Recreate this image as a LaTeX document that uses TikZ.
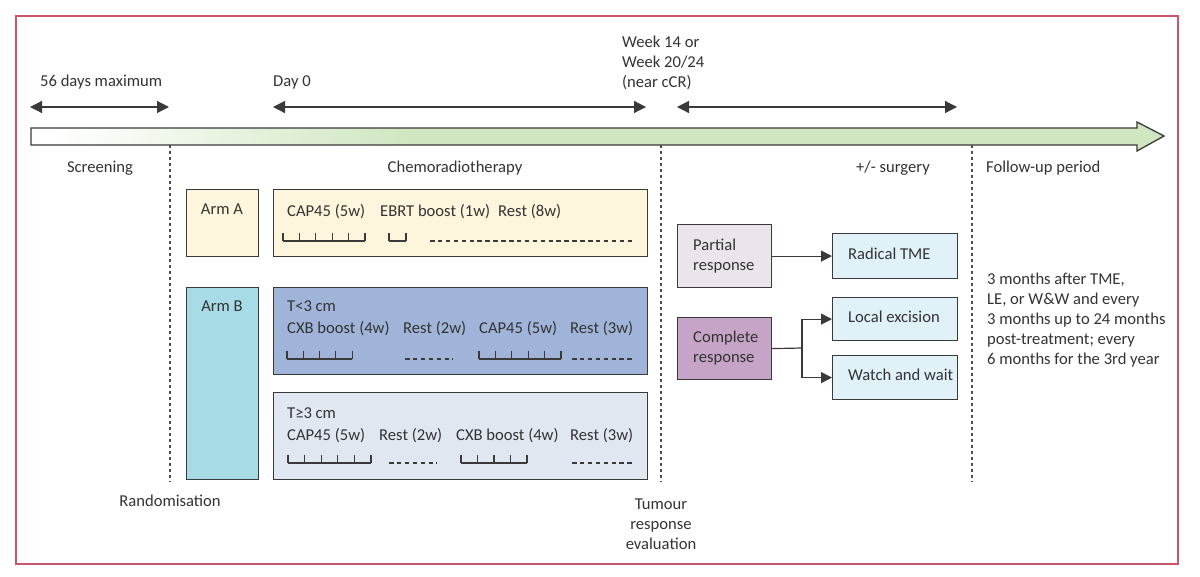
\documentclass[tikz,border=0pt]{standalone}
\usepackage{fontspec}
\setmainfont{Carlito}
\usetikzlibrary{arrows.meta}
\definecolor{txt}{HTML}{333333}
\definecolor{ln}{HTML}{3A3A3A}
\definecolor{frameRed}{HTML}{C9566A}
\definecolor{barG}{HTML}{CFE6C0}
\definecolor{armAfill}{HTML}{FDF5DC}
\definecolor{armBfill}{HTML}{A7DBE6}
\definecolor{smallT}{HTML}{9FB4D8}
\definecolor{bigT}{HTML}{E0E7F1}
\definecolor{partfill}{HTML}{ECE4ED}
\definecolor{compfill}{HTML}{C6A4C8}
\definecolor{surgfill}{HTML}{E0F1F7}
\pgfdeclarehorizontalshading{barshade}{100bp}{color(0bp)=(white); color(26bp)=(white); color(42bp)=(barG); color(100bp)=(barG)}
\newcommand\weekticks[4]{%
  \draw[tickline] (#1,#2) -- ({#1+#3*#4},#2);
  \foreach \k in {0,...,#3} \draw[tickline] ({#1+\k*#4},#2) -- ({#1+\k*#4},#2-8);}
\begin{document}
\begin{tikzpicture}[x=1pt,y=-1pt,
  every node/.style={font=\fontsize{16.6}{20}\selectfont, text=txt, inner sep=0pt},
  lbl/.style={text height=11pt, text depth=3.5pt},
  box/.style={draw=ln, line width=1.2pt, anchor=north west},
  conn/.style={draw=ln, line width=1.2pt, -{Triangle[length=11pt,width=11pt]}},
  span/.style={draw=ln, line width=1.2pt, {Triangle[length=12pt,width=12pt]}-{Triangle[length=12pt,width=12pt]}},
  divider/.style={draw=ln!90, line width=1.4pt, dash pattern=on 3pt off 3pt},
  tickline/.style={draw=ln, line width=1.1pt},
  restline/.style={draw=ln, line width=1.1pt, dash pattern=on 4.5pt off 3.4pt}]
\useasboundingbox (0,0) rectangle (1200,576);
\fill[white] (0,0) rectangle (1200,576);
% frame
\draw[frameRed, line width=1.3pt] (16,16) rectangle (1178,564);
% timeline bar
\shadedraw[shading=barshade, draw=ln, line width=1.3pt, line join=miter]
  (31,128) -- (1137,128) -- (1137,122) -- (1164,136) -- (1137,151) -- (1137,145) -- (31,145) -- cycle;
% spans
\coordinate (s1a) at (30,107); \coordinate (s1b) at (169,107);
\coordinate (s2a) at (273,107); \coordinate (s2b) at (646,107);
\coordinate (s3a) at (677,107); \coordinate (s3b) at (957,107);
\draw[span] (s1a) -- (s1b);
\draw[span] (s2a) -- (s2b);
\draw[span] (s3a) -- (s3b);
\node[lbl, anchor=west] (t56) at (40,83) {56 days maximum};
\node[lbl, anchor=west] (tday) at (273,83) {Day 0};
\node[anchor=west, align=left] (tweek) at (622,63) {Week 14 or\\Week 20/24\\(near cCR)};
% dividers
\coordinate (d1a) at (170,145); \coordinate (d1b) at (170,482);
\coordinate (d2a) at (661,145); \coordinate (d2b) at (661,482);
\coordinate (d3a) at (972,145); \coordinate (d3b) at (972,482);
\draw[divider] (d1a) -- (d1b);
\draw[divider] (d2a) -- (d2b);
\draw[divider] (d3a) -- (d3b);
% phase labels
\node[lbl] (screen) at (100,169) {Screening};
\node[lbl] (chemo) at (455,169) {Chemoradiotherapy};
\node[lbl] (surg) at (893,169) {+/- surgery};
\node[lbl, anchor=west] (follow) at (986,169) {Follow-up period};
\node[lbl] (rand) at (170,503) {Randomisation};
\node[align=center] (tumour) at (661,524) {Tumour\\response\\evaluation};
% arms
\node[box, fill=armAfill, minimum width=72pt, minimum height=67pt] (armA) at (186,189) {};
\node[lbl] at (222,211) {Arm A};
\node[box, fill=armBfill, minimum width=72pt, minimum height=192pt] (armB) at (186,287) {};
\node[lbl] at (222,308) {Arm B};
\node[box, fill=armAfill, minimum width=374pt, minimum height=67pt] (boxA) at (273,189) {};
\node[box, fill=smallT, minimum width=374pt, minimum height=87pt] (boxB1) at (273,287) {};
\node[box, fill=bigT, minimum width=374pt, minimum height=87pt] (boxB2) at (273,392) {};
% Arm A content
\node[lbl, anchor=west] at (287,213) {CAP45 (5w)};
\node[lbl, anchor=west] at (380,213) {EBRT boost (1w)};
\node[lbl, anchor=west] at (498,213) {Rest (8w)};
\weekticks{283}{241}{5}{16.4}
\weekticks{389}{241}{1}{17}
\draw[restline] (430,241) -- (635,241);
% T<3
\node[lbl, anchor=west] at (287,308) {T<3 cm};
\node[lbl, anchor=west] at (287,330) {CXB boost (4w)};
\node[lbl, anchor=west] at (403,330) {Rest (2w)};
\node[lbl, anchor=west] at (479,330) {CAP45 (5w)};
\node[lbl, anchor=west] at (570,330) {Rest (3w)};
\weekticks{287}{359}{4}{16.3}
\draw[restline] (405,359) -- (453,359);
\weekticks{479}{359}{5}{16.4}
\draw[restline] (572,359) -- (635,359);
% T>=3
\node[lbl, anchor=west] at (287,415) {T≥3 cm};
\node[lbl, anchor=west] at (287,437) {CAP45 (5w)};
\node[lbl, anchor=west] at (379,437) {Rest (2w)};
\node[lbl, anchor=west] at (456,437) {CXB boost (4w)};
\node[lbl, anchor=west] at (570,437) {Rest (3w)};
\weekticks{288}{463}{5}{16.6}
\draw[restline] (389,463) -- (437,463);
\weekticks{461}{463}{4}{16.5}
\draw[restline] (572,463) -- (635,463);
% responses
\node[box, fill=partfill, minimum width=94pt, minimum height=63pt] (partial) at (677,224) {};
\node[anchor=west, align=left] at (693,256) {Partial\\response};
\node[box, fill=compfill, minimum width=94pt, minimum height=62pt] (complete) at (677,317) {};
\node[anchor=west, align=left] at (693,348) {Complete\\response};
\node[box, fill=surgfill, minimum width=125pt, minimum height=45pt] (radical) at (832,233) {};
\node[lbl, anchor=west] at (848,256) {Radical TME};
\node[box, fill=surgfill, minimum width=125pt, minimum height=43pt] (local) at (832,297) {};
\node[lbl, anchor=west] at (848,319) {Local excision};
\node[box, fill=surgfill, minimum width=125pt, minimum height=44pt] (watch) at (832,355) {};
\node[lbl, anchor=west] at (848,377) {Watch and wait};
\draw[conn] (partial.east) -- (radical.west);
\coordinate (split) at (802,348);
\draw[draw=ln, line width=1.2pt] (complete.east) -- (split);
\draw[conn] (split) |- (local.west);
\draw[conn] (split) |- (watch.west);
% follow-up text
\node[anchor=west, align=left] (fu) at (987,320) {3 months after TME,\\LE, or W\&W and every\\3 months up to 24 months\\post-treatment; every\\6 months for the 3rd year};
\end{tikzpicture}
\end{document}
